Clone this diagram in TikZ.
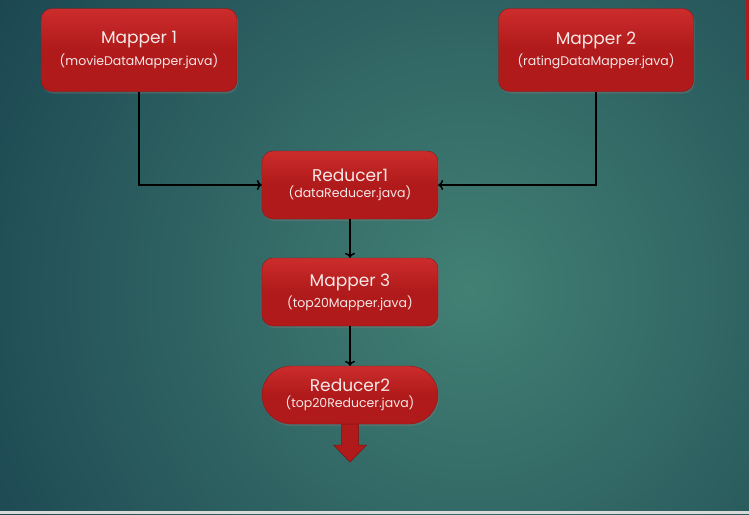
\documentclass[tikz,border=0pt]{standalone}
\usepackage{fontspec}
\setmainfont{Poppins}
\usetikzlibrary{arrows.meta,
                shapes.geometric,
                shadows}

\definecolor{tealdark}{RGB}{22,62,76}
\definecolor{teallight}{RGB}{66,128,116}
\definecolor{boxred}{RGB}{176,26,26}
\definecolor{boxredtop}{RGB}{204,44,44}
\definecolor{boxtext}{RGB}{246,232,232}

\tikzset{
    jobbox/.style={rectangle, rounded corners=11pt, draw=boxred!80!black, line width=0.4pt,
                   top color=boxredtop, bottom color=boxred, middle color=boxred,
                   text=boxtext, align=center, inner sep=0pt,
                   drop shadow={opacity=0.35, shadow xshift=1pt, shadow yshift=-2pt}},
    flow/.style={-{To[length=5pt, width=10pt]}, line width=1.6pt, black}
}

\newcommand{\jobtext}[2]{{\fontsize{17}{20}\selectfont #1}\\[4pt]{\fontsize{12.5}{15}\selectfont #2}}

\begin{document}
\begin{tikzpicture}[x=1pt, y=-1pt]
            % background
            \useasboundingbox (0,0) rectangle (749,514);
            \begin{scope}
                \clip (0,0) rectangle (749,514);
                \shade [inner color=teallight, outer color=tealdark] (470,290) circle (640);
                \fill [boxred] (746,0) rectangle (749,80);
                \fill [gray!30] (0,511) rectangle (749,514);
            \end{scope}
            % jobs
            \node [jobbox, minimum width=196pt, minimum height=83pt] (map1) at (139,50) {\jobtext{Mapper 1}{(movieDataMapper.java)}};
            \node [jobbox, minimum width=195pt, minimum height=83pt] (map2) at (596,50) {\jobtext{Mapper 2}{(ratingDataMapper.java)}};
            \node [jobbox, minimum width=176pt, minimum height=68pt] (red1) at (350,185) {\jobtext{Reducer1}{(dataReducer.java)}};
            \node [jobbox, minimum width=176pt, minimum height=68pt] (map3) at (350,292) {\jobtext{Mapper 3}{(top20Mapper.java)}};
            \node [jobbox, rounded corners=29pt, minimum width=176pt, minimum height=58pt] (red2) at (350,395) {\jobtext{Reducer2}{(top20Reducer.java)}};
            % connectors
            \draw [flow] (map1.south) |- (red1.west);
            \draw [flow] (map2.south) |- (red1.east);
            \draw [flow] (red1) -- (map3);
            \draw [flow] (map3) -- (red2);
            % output arrow
            \coordinate (out) at (350,462);
            \filldraw [boxred, draw=boxred!70!black, line width=0.5pt]
                (341.5,424) -- (358.5,424) -- (358.5,445) -- (366.5,445) -- (out)
                -- (333.5,445) -- (341.5,445) -- cycle;
\end{tikzpicture}
\end{document}
